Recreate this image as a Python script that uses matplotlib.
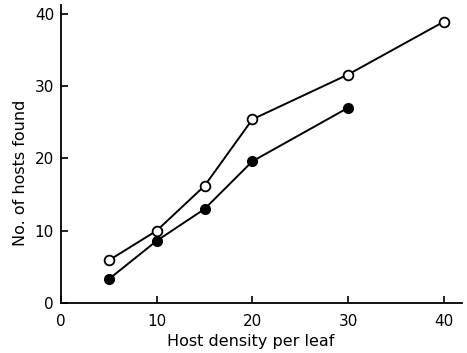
import matplotlib
matplotlib.use("Agg")
import matplotlib.pyplot as plt

# host density vs number of hosts found
density_open = [5, 10, 15, 20, 30, 40]
found_open = [5.9, 10.0, 16.2, 25.4, 31.6, 38.9]

density_filled = [5, 10, 15, 20, 30]
found_filled = [3.3, 8.6, 13.0, 19.6, 27.0]

xticks = [0, 10, 20, 30, 40]
yticks = [0, 10, 20, 30, 40]

plt.rcParams["font.family"] = ["DejaVu Sans"]

fig = plt.figure(figsize=(4.67, 3.53), dpi=100)
ax = fig.add_axes([0.1306, 0.1416, 0.8587, 0.844])

ax.plot(density_open, found_open, color="black", lw=1.4, marker="o",
        markersize=7, markerfacecolor="white", markeredgecolor="black",
        markeredgewidth=1.3, zorder=3)
ax.plot(density_filled, found_filled, color="black", lw=1.4, marker="o",
        markersize=7, markerfacecolor="black", markeredgecolor="black", zorder=3)

ax.set_xlim(0, 41.9)
ax.set_ylim(0, 41.2)
ax.set_xticks(xticks)
ax.set_yticks(yticks)
ax.tick_params(direction="in", length=5, width=1.2, labelsize=11)
ax.tick_params(axis="x", pad=8)
ax.tick_params(axis="y", pad=5)

for side in ["top", "right"]:
    ax.spines[side].set_visible(False)
for side in ["left", "bottom"]:
    ax.spines[side].set_linewidth(1.3)

ax.set_xlabel("Host density per leaf", fontsize=11.5)
ax.set_ylabel("No. of hosts found", fontsize=11.5)
# labels sit a bit off-centre in the original
ax.xaxis.set_label_coords(0.474, -0.105)
ax.yaxis.set_label_coords(-0.082, 0.436)

fig.savefig("out.png", dpi=100)
